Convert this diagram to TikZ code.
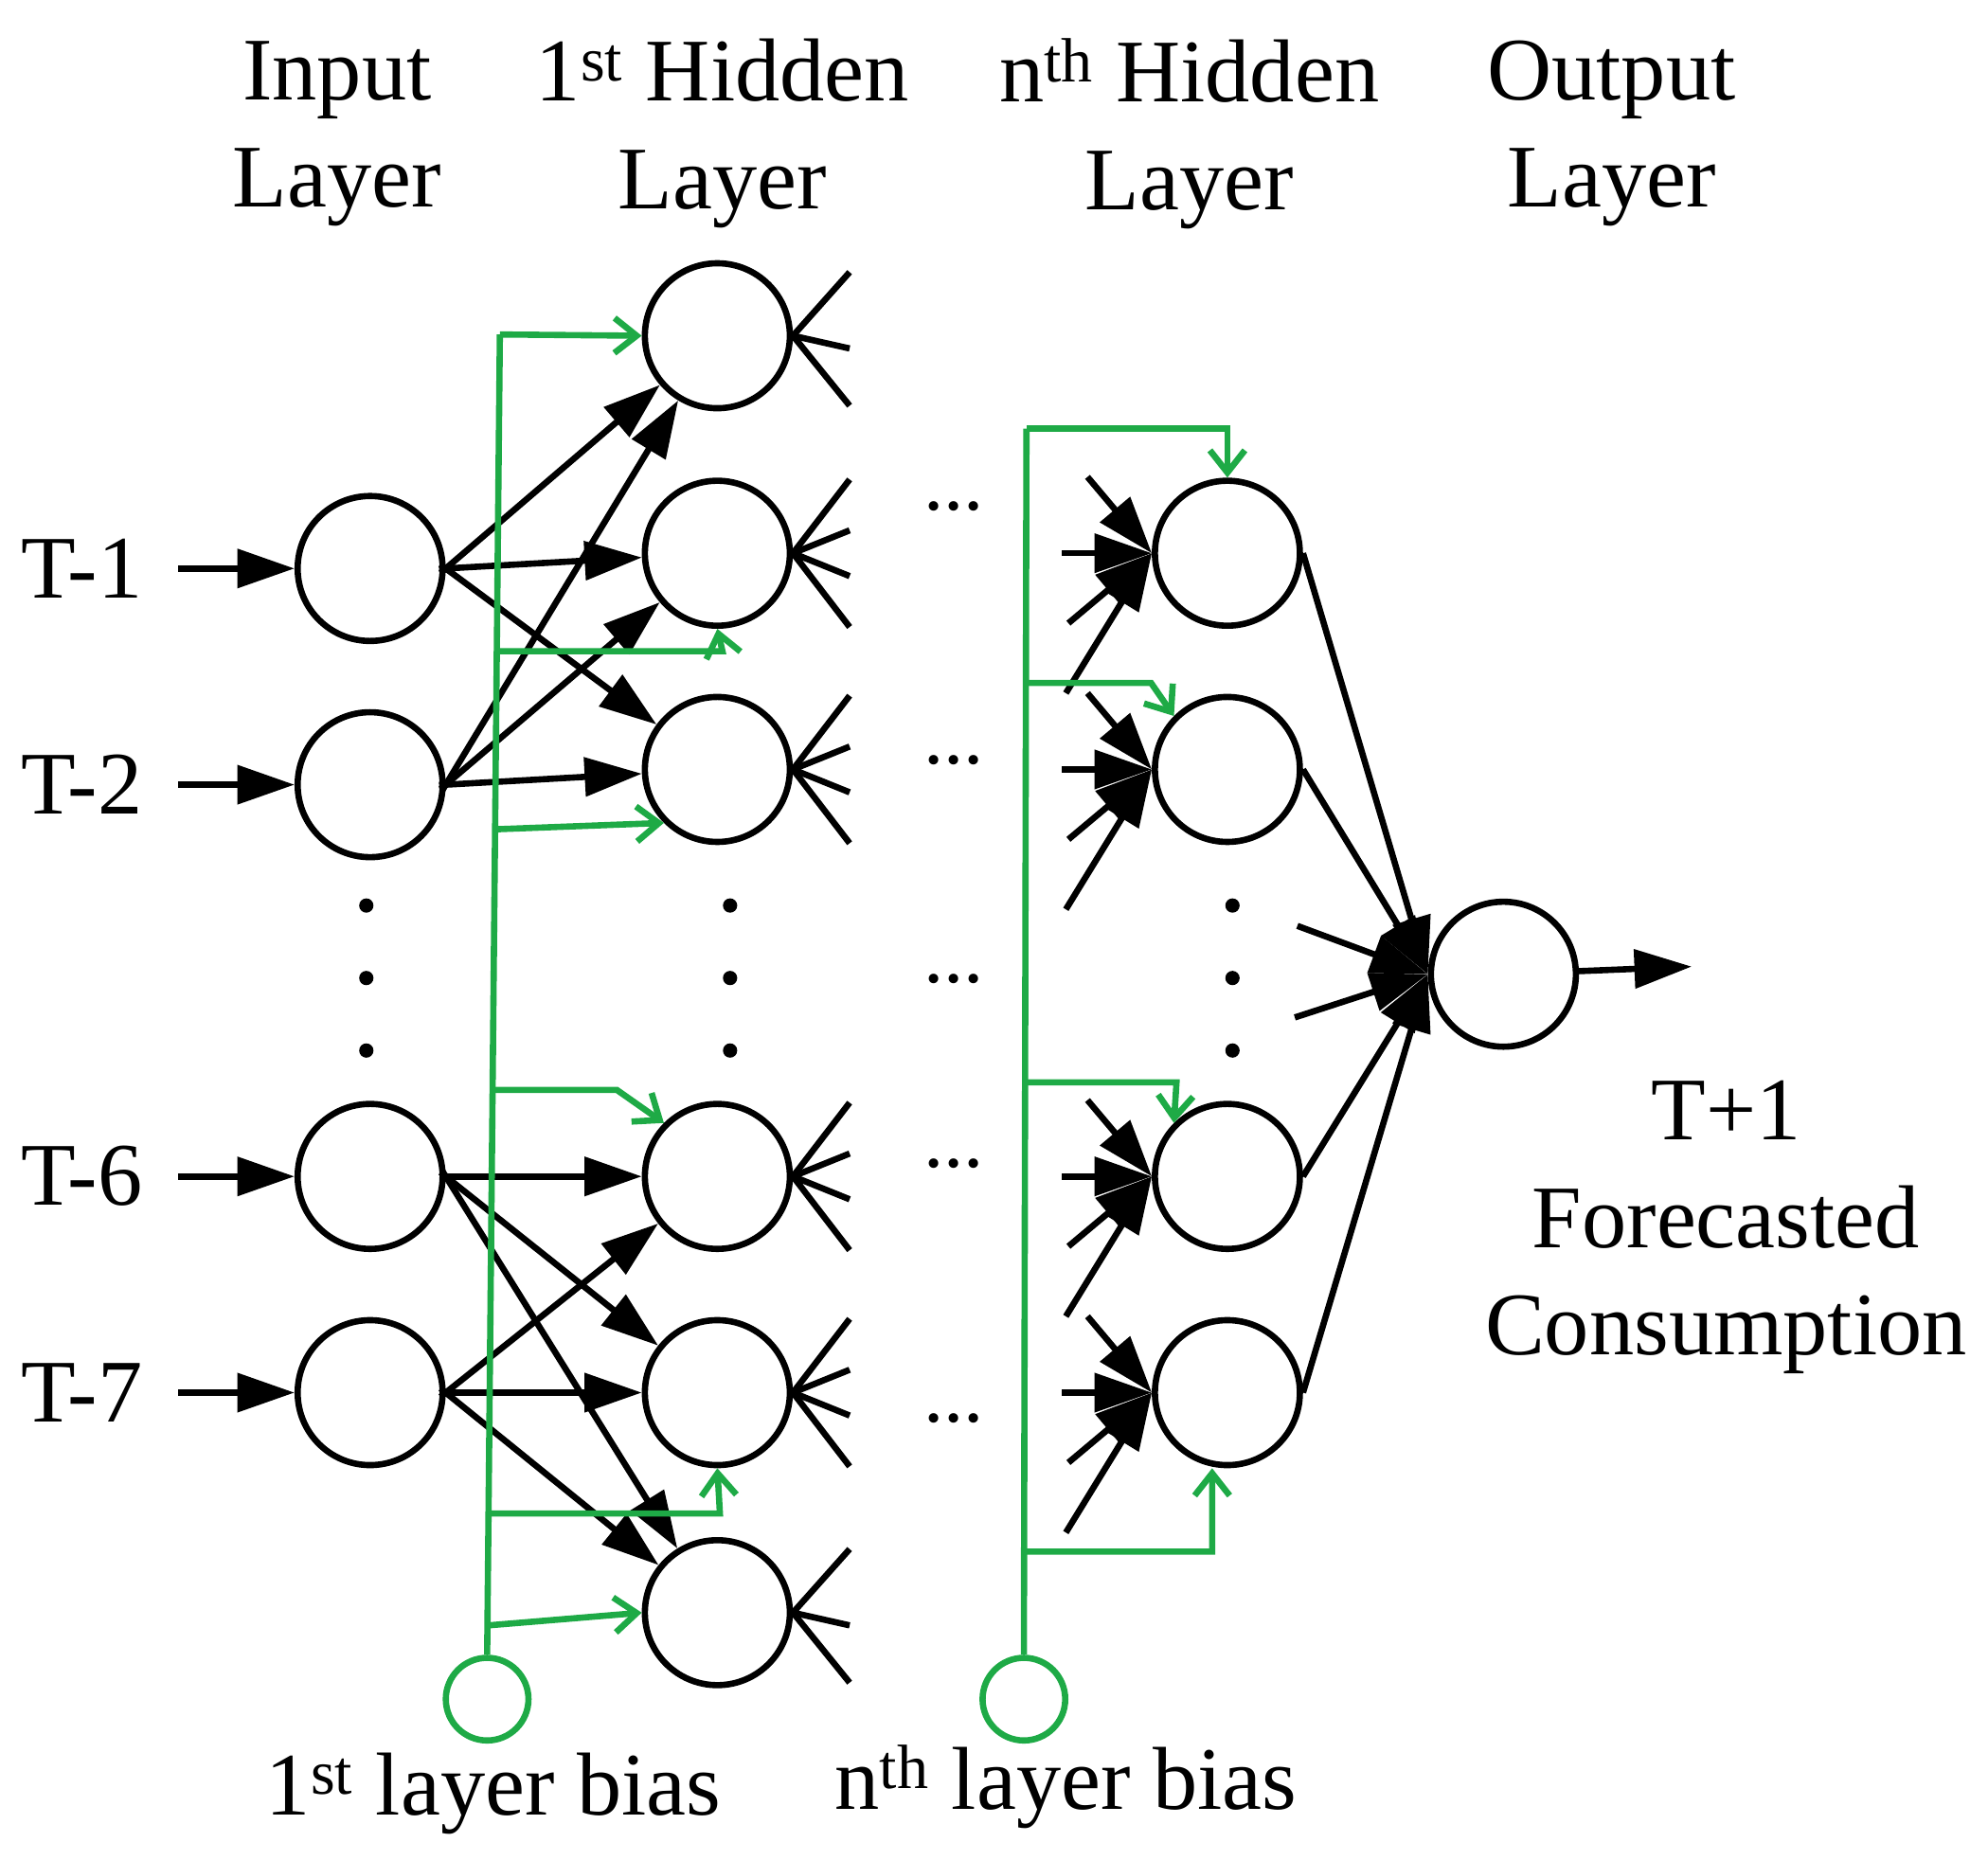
\documentclass[tikz,border=0pt]{standalone}
\usepackage{fontspec}
\setmainfont{Liberation Serif}
\usetikzlibrary{arrows.meta}
\definecolor{gr}{RGB}{30,170,70}
\begin{document}
\begin{tikzpicture}[x=0.02cm,y=-0.02cm,
  neu/.style={circle,draw,line width=2.8pt,minimum size=2.28cm,inner sep=0pt},
  bias/.style={circle,draw=gr,line width=2.8pt,minimum size=1.3cm,inner sep=0pt},
  ar/.style={line width=2.8pt,-{Triangle[length=0.9cm,width=0.6cm]}},
  ln/.style={line width=2.8pt},
  ga/.style={draw=gr,line width=2.8pt,-{Straight Barb[length=0.35cm,width=0.55cm]}},
  gl/.style={draw=gr,line width=2.8pt},
  lab/.style={font=\fontsize{40}{48}\selectfont,align=center},
  dt/.style={font=\fontsize{36}{40}\selectfont}]
\useasboundingbox (0,0) rectangle (1563,1462);
% labels
\node[lab] (l1) at (265,105) {Input\\Layer};
\node[lab] (l2) at (568,105) {1\textsuperscript{st} Hidden\\Layer};
\node[lab] (l3) at (935,105) {n\textsuperscript{th} Hidden\\Layer};
\node[lab] (l4) at (1267,105) {Output\\Layer};
\node[lab] (l5) at (1357,965) {T+1\\Forecasted\\Consumption};
\node[lab] (b1l) at (388,1410) {1\textsuperscript{st} layer bias};
\node[lab] (bnl) at (838,1405) {n\textsuperscript{th} layer bias};
% input nodes
\foreach \n/\y/\t in {a/447/T-1,b/617/T-2,c/925/T-6,d/1095/T-7}{
  \node[neu] (i\n) at (291,\y) {};
  \node[lab,anchor=east] (t\n) at (118,\y) {\t};
  \coordinate (s\n) at (140,\y);
  \draw[ar] (s\n) -- (i\n);
}
% hidden 1
\foreach \n/\y in {1/264,2/435,3/605,4/925,5/1095,6/1268}{
  \node[neu] (h\n) at (564,\y) {};
}
\foreach \n/\y in {2/435,3/605,4/925,5/1095}{
  \foreach \d [count=\k] in {-58,-18,18,58}{
    \coordinate (e\n\k) at (668,\y+\d);
    \draw[ln] (h\n.east) -- (e\n\k);}
}
\foreach \n/\y in {1/264,6/1268}{
  \foreach \d [count=\k] in {-50,10,55}{
    \coordinate (e\n\k) at (668,\y+\d);
    \draw[ln] (h\n.east) -- (e\n\k);}
}
% hidden n
\foreach \n/\y in {1/435,2/605,3/925,4/1095}{
  \node[neu] (n\n) at (965,\y) {};
  \foreach \dx/\dy [count=\k] in {855/-60,835/0,840/55,838/110}{
    \coordinate (f\n\k) at (\dx,\y+\dy);
    \draw[ar] (f\n\k) -- (n\n.west);}
}
% output
\node[neu] (o) at (1182,766) {};
\coordinate (oo) at (1330,760);
\draw[ar] (o) -- (oo);
\foreach \n in {1,2,3,4}{\draw[ar] (n\n.east) -- (o.west);}
\coordinate (x1) at (1020,728); \coordinate (x2) at (1018,800);
\draw[ar] (x1) -- (o.west); \draw[ar] (x2) -- (o.west);
% input -> hidden1
\foreach \s/\t in {a/1,a/2,a/3,b/1,b/2,b/3,c/4,c/5,c/6,d/4,d/5,d/6}{
  \draw[ar,shorten <=-3pt] (i\s.east) -- (h\t);
}
% dots
\foreach \x in {288,574,969}{\foreach \y in {712,769,826}{\fill (\x,\y) circle (3.2pt);}}
\foreach \y in {408,608,780,925,1125}{\node[dt] at (750,\y-10) {...};}
% biases
\node[bias] (B1) at (383,1336) {};
\node[bias] (Bn) at (805,1336) {};
\coordinate (g1) at (393,263);
\draw[gl] (B1.north) -- (g1);
\draw[ga] (g1) -- (h1.west);
\coordinate (p2) at (392,512); \coordinate (q2) at (568,512);
\draw[ga] (p2) -- (q2) -- (h2.south);
\coordinate (p3) at (391,652);
\draw[ga] (p3) -- (h3.south west);
\coordinate (p4) at (388,857); \coordinate (q4) at (485,857);
\draw[ga] (p4) -- (q4) -- (h4.north west);
\coordinate (p5) at (385,1190); \coordinate (q5) at (566,1190);
\draw[ga] (p5) -- (q5) -- (h5.south);
\coordinate (p6) at (384,1278);
\draw[ga] (p6) -- (h6.west);
\coordinate (gn) at (807,337); \coordinate (gm) at (965,337);
\draw[gl] (Bn.north) -- (gn);
\draw[ga] (gn) -- (gm) -- (n1.north);
\coordinate (r2) at (807,537); \coordinate (u2) at (905,537);
\draw[ga] (r2) -- (u2) -- (n2.north west);
\coordinate (r3) at (807,851); \coordinate (u3) at (925,851);
\draw[ga] (r3) -- (u3) -- (n3.north west);
\coordinate (r4) at (807,1220); \coordinate (u4) at (953,1220);
\draw[ga] (r4) -- (u4) -- ([xshift=-0.24cm]n4.south);
\end{tikzpicture}
\end{document}
